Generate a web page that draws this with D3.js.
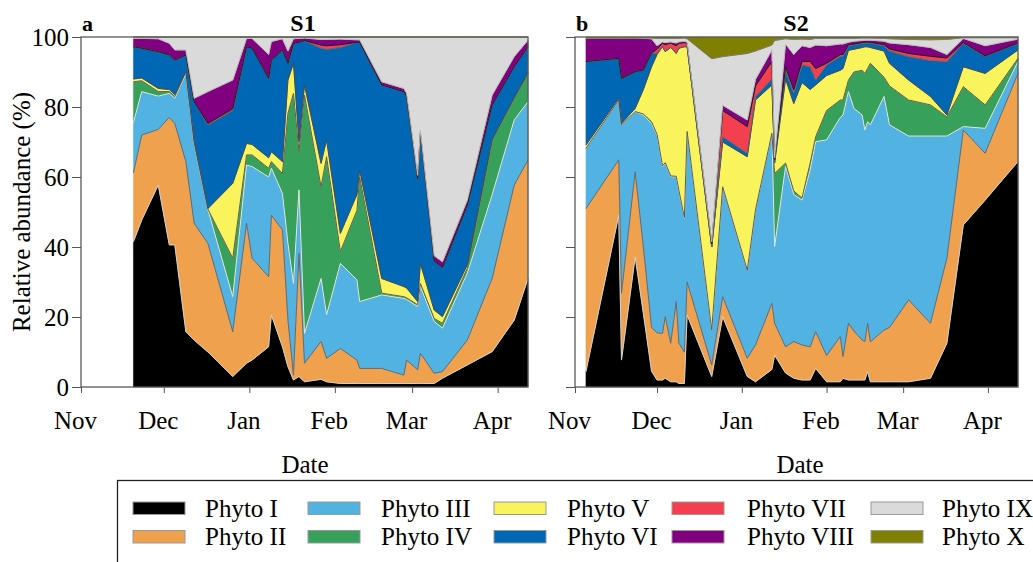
<!DOCTYPE html>
<html>
<head>
<meta charset="utf-8">
<script src="https://cdn.jsdelivr.net/npm/d3@7"></script>
<style>
  html, body { margin: 0; padding: 0; background: #fff; }
  svg text { font-family: "Liberation Serif", "Times New Roman", serif; fill: #000; }
</style>
</head>
<body>
<svg id="chart" width="1033" height="562"></svg>
<script>
// ---- Phytoplankton groups ----
const seriesNames = ["Phyto I", "Phyto II", "Phyto III", "Phyto IV", "Phyto V",
                     "Phyto VI", "Phyto VII", "Phyto VIII", "Phyto IX", "Phyto X"];
const seriesColors = ["#000000", "#efa14d", "#52b2e2", "#37a05a", "#f9f35c",
                      "#0067b4", "#f4404e", "#80007f", "#dadada", "#7f7f00"];
const edgeColors = ["#cfcfcf", "#6a6a6a", "#e4e4e4", "#5c5c5c", "#4a4a4a",
                    "#666666", "#1e1e1e", "#bcbcbc", "#7a7a7a"];

const yTickValues = [0, 20, 40, 60, 80, 100];
const monthLabels = ["Nov", "Dec", "Jan", "Feb", "Mar", "Apr"];

// ---- Station S1: relative abundance (%) per sampling date ----
const s1Dates = ["2018-11-20","2018-11-23","2018-11-29","2018-12-03","2018-12-05","2018-12-09","2018-12-12","2018-12-17","2018-12-26","2018-12-31",
                 "2019-01-02","2019-01-08","2019-01-09","2019-01-13","2019-01-15","2019-01-17","2019-01-19","2019-01-21","2019-01-27","2019-01-29",
                 "2019-02-03","2019-02-09","2019-02-10","2019-02-18","2019-02-26","2019-02-27","2019-03-03","2019-03-04","2019-03-09","2019-03-12",
                 "2019-03-21","2019-03-30","2019-04-07","2019-04-12"];
const s1PhytoI    = [41.5,47.7,57.7,40.6,40.6,15.8,13.4,10.0,3.0,6.8, 7.7,11.5,20.6,11.5,5.8,2.0,3.0,1.5,2.2,1.5, 1.0,1.0,1.0,1.0,1.0,1.0,1.0,1.0,1.0,2.5, 6.3,10.1,19.1,31.0];
const s1PhytoII   = [19.7,24.3,15.9,36.4,34.7,48.6,33.4,31.0,12.8,40.0, 29.1,20.0,28.5,33.4,13.3,1.4,35.2,5.3,10.8,6.7, 10.0,6.7,4.3,4.3,2.4,6.7,3.9,8.6,2.9,1.9, 7.1,20.9,38.6,33.9];
const s1PhytoIII  = [14.3,12.4,9.5,6.9,7.2,25.2,22.8,9.6,10.0,16.6, 26.2,28.5,13.4,10.4,21.9,26.2,18.1,8.5,18.0,12.4, 24.3,22.9,19.1,21.0,21.9,17.3,18.1,19.1,14.8,12.4, 19.1,23.9,18.6,16.6];
const s1PhytoIV   = [11.7,3.1,1.3,0.5,0.5,0.4,0.4,0.2,11.0,2.9, 3.3,2.5,1.9,5.7,37.2,54.3,10.9,68.1,26.2,45.2, 3.4,19.9,35.6,0.5,0.5,0.5,0.5,0.9,0.9,1.4, 1.4,15.7,6.2,8.1];
const s1PhytoV    = [0.8,0.8,0.9,0.6,0.5,0.2,0.2,0.2,21.4,3.3, 3.0,3.0,2.8,3.4,9.5,8.6,2.9,2.9,6.7,4.8, 5.2,4.5,2.0,4.2,2.9,2.8,0.9,5.7,2.4,1.9, 1.0,0.2,0.2,0.2];
const s1PhytoVI   = [9.2,8.5,10.5,9.9,9.9,4.7,11.3,23.9,20.9,27.6, 27.5,22.7,26.2,31.9,4.8,5.7,28.4,12.7,32.9,25.9, 53.1,43.5,36.5,55.3,55.7,54.7,35.2,37.2,14.0,14.1, 17.1,9.8,8.8,7.4];
const s1PhytoVII  = [0,0,0,0,0,0,0,0.4,0.4,0, 0,0,0,0,0,0,0,0,0.9,1.0, 0.8,0,0,0,0,0,0,0,0,0, 0,0,0,0];
const s1PhytoVIII = [2.4,2.8,3.7,3.3,2.9,1.4,1.0,9.1,8.2,2.4, 2.8,6.8,5.3,3.2,3.5,1.3,1.1,0.7,1.6,1.8, 1.6,0.7,0.7,0.9,0.9,1.0,0.9,0.9,1.5,1.6, 1.4,2.8,2.9,1.9];
const s1PhytoIX   = [0.4,0.4,0.5,1.8,3.7,3.7,17.5,15.6,12.3,0.4, 0.4,5.0,1.3,0.5,4.0,0.5,0.4,0.3,0.7,0.7, 0.6,0.8,0.8,12.8,14.7,16.0,39.5,26.6,62.5,64.2, 46.6,16.6,5.6,0.9];
const s1PhytoX    = [0,0,0,0,0,0,0,0,0,0, 0,0,0,0,0,0,0,0,0,0, 0,0,0,0,0,0,0,0,0,0, 0,0,0,0];

// ---- Station S2: relative abundance (%) per sampling date ----
const s2Dates = ["2018-11-05","2018-11-17","2018-11-18","2018-11-23","2018-11-26","2018-11-29","2018-12-01","2018-12-03","2018-12-04","2018-12-06",
                 "2018-12-08","2018-12-09","2018-12-11","2018-12-12","2018-12-21","2018-12-25","2019-01-03","2019-01-06","2019-01-12","2019-01-13",
                 "2019-01-17","2019-01-20","2019-01-23","2019-01-26","2019-01-28","2019-02-01","2019-02-06","2019-02-07","2019-02-09","2019-02-11",
                 "2019-02-14","2019-02-15","2019-02-16","2019-02-17","2019-02-22","2019-02-24","2019-03-03","2019-03-11","2019-03-17","2019-03-23",
                 "2019-03-31","2019-04-12"];
const s2PhytoI    = [4.4,49.1,7.7,37.2,21.0,4.5,2.0,2.0,2.5,1.5, 1.5,1.0,1.0,20.6,3.0,20.1,3.0,1.5,5.0,9.1, 4.0,2.5,2.0,2.0,5.3,1.5,1.5,2.5,2.0,2.0, 2.0,2.0,4.4,1.5,1.5,1.5,1.5,2.5,12.5,46.3, 53.4,64.4];
const s2PhytoII   = [46.6,15.8,19.1,24.3,19.0,12.5,13.5,13.3,17.6,11.0, 22.9,11.5,9.0,9.4,3.3,5.7,5.2,10.5,18.9,9.1, 7.5,10.5,10.0,9.5,10.5,7.5,12.9,6.2,16.2,14.0, 11.4,11.0,13.8,11.4,14.8,15.5,23.4,15.7,24.3,27.1, 13.4,25.2];
const s2PhytoIII  = [17.2,17.1,48.1,17.2,37.7,58.3,56.5,47.7,43.8,47.6, 35.6,43.5,38.2,43.0,10.0,31.4,25.2,38.6,48.6,21.9, 51.5,42.0,41.4,50.5,54.3,61.6,62.6,69.0,66.2,63.6, 64.3,60.4,57.6,62.0,66.7,57.9,46.8,53.5,34.9,1.0, 7.1,3.4];
const s2PhytoIV   = [0,0,0,0,0.3,0.5,0.2,0.2,0.2,0.2, 0.2,0.2,0.2,0,0,0,0,0,0,20.9, 1.0,1.0,0.6,2.0,1.4,8.4,5.0,4.3,3.3,10.4, 12.8,16.2,15.2,17.6,5.5,11.1,10.3,8.9,5.5,11.4, 6.7,0.9];
const s2PhytoV    = [0.9,0.5,0.4,0.9,7.0,15.7,22.8,34.0,31.7,36.7, 35.1,40.6,48.8,24.2,23.7,12.8,32.4,31.4,13.8,3.0, 24.0,25.0,33.0,21.0,14.8,10.0,8.5,9.0,8.5,6.5, 6.5,7.6,6.2,4.5,7.5,6.5,5.7,2.4,0.5,5.7, 9.0,2.4];
const s2PhytoVI   = [23.9,11.4,12.9,10.5,5.6,4.0,0.3,0.1,0.1,0.1, 0.1,0.1,0.1,0.1,0,1.5,1.0,1.0,1.7,0.5, 2.5,3.0,5.0,6.5,1.4,3.0,4.0,3.5,1.3,1.3, 1.2,1.1,1.1,1.3,1.5,3.5,6.7,10.3,15.3,6.7, 4.9,1.9];
const s2PhytoVII  = [0,0,0,0,0,0,1.2,0.9,1.9,1.2, 2.1,1.3,1.1,0.9,1.0,7.5,7.6,3.0,5.0,0.5, 1.0,1.0,1.0,1.5,3.3,0.5,0.5,0.5,0.3,0.2, 0.2,0.2,0.2,0.2,0.3,0.6,0.9,1.2,1.0,0.2, 0.1,0.1];
const s2PhytoVIII = [6.6,5.7,11.4,9.5,9.0,4.0,1.0,0.4,0.6,0.3, 0.8,0.4,0.4,0.3,0.5,1.5,1.9,1.9,3.3,0.5, 6.5,10.0,4.5,4.0,6.7,5.0,3.0,3.0,0.7,0.8, 0.6,0.6,0.6,0.6,1.0,1.7,2.5,2.5,1.0,1.2, 2.9,1.1];
const s2PhytoIX   = [0,0,0,0,0.1,0.2,2.1,1.0,1.2,1.0, 1.3,1.0,0.9,1.0,52.3,13.9,19.0,8.1,1.4,33.5, 1.5,4.3,1.9,2.3,1.9,2.1,1.6,1.6,1.1,0.8, 0.7,0.6,0.6,0.6,0.8,1.2,1.5,2.2,4.3,0.2, 2.3,0.4];
const s2PhytoX    = [0.4,0.4,0.4,0.4,0.3,0.3,0.4,0.4,0.4,0.4, 0.4,0.4,0.3,0.5,6.2,5.6,4.7,4.0,2.3,1.0, 0.5,0.7,0.6,0.7,0.4,0.4,0.4,0.4,0.4,0.4, 0.3,0.3,0.3,0.3,0.4,0.5,0.7,0.8,0.7,0.2, 0.2,0.2];

// ---- layout ----
const svg = d3.select("#chart");
const parseDate = d3.timeParse("%Y-%m-%d");
const dateStart = parseDate("2018-11-01");
const dateEnd = parseDate("2019-04-12");
const plotTop = 37, plotBottom = 387;

const panels = [
  { tag: "a", title: "S1", left: 81, right: 528, titleX: 303, dateX: 305, showYLabels: true,
    dates: s1Dates,
    values: [s1PhytoI, s1PhytoII, s1PhytoIII, s1PhytoIV, s1PhytoV, s1PhytoVI, s1PhytoVII, s1PhytoVIII, s1PhytoIX, s1PhytoX] },
  { tag: "b", title: "S2", left: 575, right: 1018, titleX: 796, dateX: 800, showYLabels: false,
    dates: s2Dates,
    values: [s2PhytoI, s2PhytoII, s2PhytoIII, s2PhytoIV, s2PhytoV, s2PhytoVI, s2PhytoVII, s2PhytoVIII, s2PhytoIX, s2PhytoX] }
];

const y = d3.scaleLinear().domain([0, 100]).range([plotBottom, plotTop]);

panels.forEach(p => {
  const x = d3.scaleTime().domain([dateStart, dateEnd]).range([p.left, p.right]);
  const g = svg.append("g");

  const rows = p.dates.map((d, i) => {
    const row = { date: parseDate(d) };
    seriesNames.forEach((s, k) => { row[s] = p.values[k][i]; });
    return row;
  });
  const layers = d3.stack().keys(seriesNames)(rows);

  const area = d3.area()
    .x(d => x(d.data.date))
    .y0(d => y(d[0]))
    .y1(d => y(d[1]));

  g.selectAll("path.layer")
    .data(layers)
    .join("path")
    .attr("class", "layer")
    .attr("fill", (d, i) => seriesColors[i])
    .attr("stroke", (d, i) => seriesColors[i])
    .attr("stroke-width", 0.5)
    .attr("d", area);

  // boundary line on top of each group
  const edge = d3.line()
    .x(d => x(d.data.date))
    .y(d => y(d[1]));
  g.selectAll("path.edge")
    .data(layers.slice(0, 9))
    .join("path")
    .attr("class", "edge")
    .attr("fill", "none")
    .attr("stroke", (d, i) => edgeColors[i])
    .attr("stroke-width", 1)
    .attr("stroke-linejoin", "round")
    .attr("d", edge);

  // y axis
  const yAxis = d3.axisLeft(y).tickValues(yTickValues).tickSize(9).tickSizeOuter(0).tickPadding(3);
  if (!p.showYLabels) yAxis.tickFormat("");
  const ya = g.append("g").attr("transform", `translate(${p.left},0)`).call(yAxis);
  ya.select(".domain").remove();
  ya.selectAll("line").attr("stroke", "#555");
  ya.selectAll("text").attr("font-size", 25).attr("font-family", "Liberation Serif, serif").attr("fill", "#000");

  // x axis
  const xAxis = d3.axisBottom(x)
    .ticks(d3.timeMonth.every(1))
    .tickFormat((d, i) => monthLabels[i])
    .tickSize(6).tickSizeOuter(0).tickPadding(18);
  const xa = g.append("g").attr("transform", `translate(0,${plotBottom})`).call(xAxis);
  xa.select(".domain").remove();
  xa.selectAll("line").attr("stroke", "#555");
  xa.selectAll("text").attr("font-size", 25).attr("font-family", "Liberation Serif, serif")
    .attr("fill", "#000").attr("dx", -6);

  // frame
  g.append("rect")
    .attr("x", p.left).attr("y", plotTop)
    .attr("width", p.right - p.left).attr("height", plotBottom - plotTop)
    .attr("fill", "none").attr("stroke", "#5a5a5a").attr("stroke-width", 1.3);

  // panel letter and station title
  g.append("text").attr("x", p.left + 1).attr("y", 31)
    .attr("font-size", 22).attr("font-weight", "bold").text(p.tag);
  g.append("text").attr("x", p.titleX).attr("y", 31).attr("text-anchor", "middle")
    .attr("font-size", 24).attr("font-weight", "bold").text(p.title);

  // x axis title
  g.append("text").attr("x", p.dateX).attr("y", 473).attr("text-anchor", "middle")
    .attr("font-size", 25).text("Date");
});

// y axis title
svg.append("text")
  .attr("transform", "translate(30,212) rotate(-90)")
  .attr("text-anchor", "middle")
  .attr("font-size", 25)
  .text("Relative abundance (%)");

// ---- legend ----
const legend = svg.append("g");
legend.append("rect")
  .attr("x", 117.5).attr("y", 480.5).attr("width", 1000).attr("height", 200)
  .attr("fill", "none").attr("stroke", "#222").attr("stroke-width", 1.3);

const swatchX = [133, 308, 494, 672, 871];
const labelX = [205, 381, 567, 747, 942];
const rowY = [502, 530.5];
const rowBase = [516.5, 545];

seriesNames.forEach((name, i) => {
  const col = Math.floor(i / 2), row = i % 2;
  legend.append("rect")
    .attr("x", swatchX[col]).attr("y", rowY[row])
    .attr("width", 52).attr("height", 12.5)
    .attr("fill", seriesColors[i]).attr("stroke", "#999").attr("stroke-width", 1);
  legend.append("text")
    .attr("x", labelX[col]).attr("y", rowBase[row])
    .attr("font-size", 25).text(name);
});
</script>
</body>
</html>
